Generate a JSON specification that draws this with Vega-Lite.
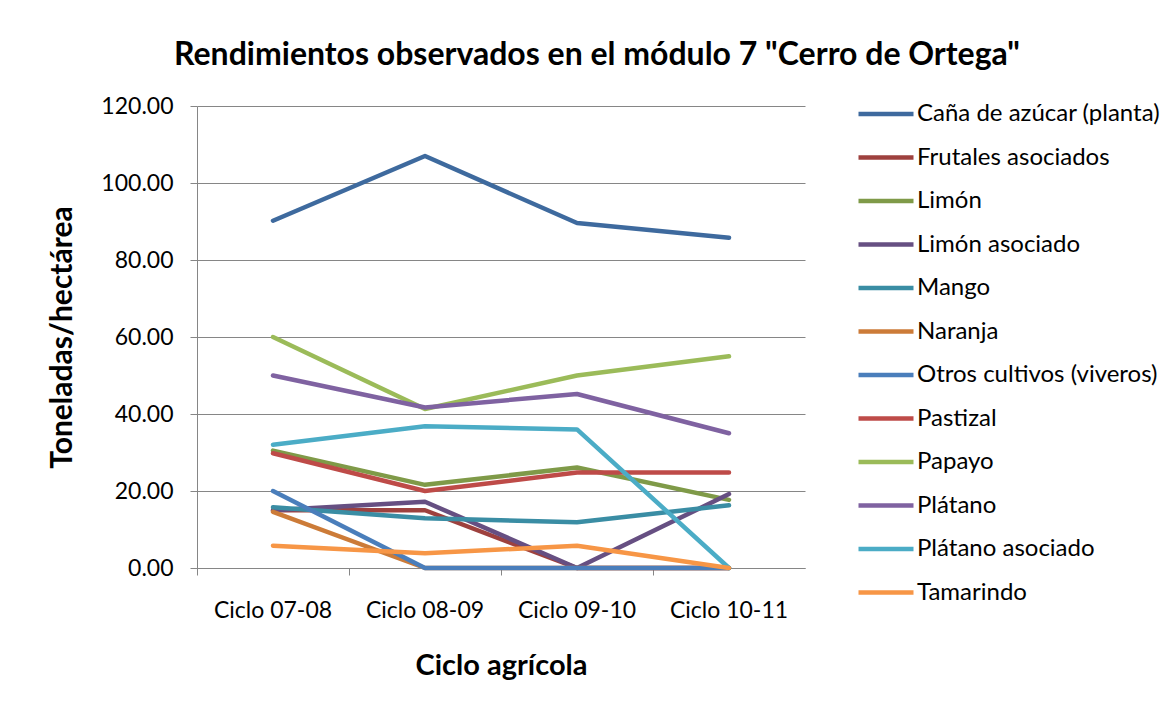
{
  "$schema": "https://vega.github.io/schema/vega-lite/v6.json",
  "autosize": {"type": "none"},
  "width": 608,
  "height": 462,
  "padding": {"left": 197, "top": 106, "right": 367, "bottom": 143},
  "background": "white",
  "title": {
    "text": "Rendimientos observados en el módulo 7 \"Cerro de Ortega\"",
    "font": "Lato",
    "fontSize": 32,
    "fontWeight": "bold",
    "color": "#000000",
    "anchor": "middle",
    "dx": 96,
    "dy": 12,
    "offset": 24
  },
  "data": {
    "values": [
      {"cultivo": "Caña de azúcar (planta)", "ciclo": "Ciclo 07-08", "t": 90.2},
      {"cultivo": "Caña de azúcar (planta)", "ciclo": "Ciclo 08-09", "t": 107},
      {"cultivo": "Caña de azúcar (planta)", "ciclo": "Ciclo 09-10", "t": 89.6},
      {"cultivo": "Caña de azúcar (planta)", "ciclo": "Ciclo 10-11", "t": 85.8},
      {"cultivo": "Frutales asociados", "ciclo": "Ciclo 07-08", "t": 15},
      {"cultivo": "Frutales asociados", "ciclo": "Ciclo 08-09", "t": 15},
      {"cultivo": "Frutales asociados", "ciclo": "Ciclo 09-10", "t": 0},
      {"cultivo": "Frutales asociados", "ciclo": "Ciclo 10-11", "t": 0},
      {"cultivo": "Limón", "ciclo": "Ciclo 07-08", "t": 30.5},
      {"cultivo": "Limón", "ciclo": "Ciclo 08-09", "t": 21.6},
      {"cultivo": "Limón", "ciclo": "Ciclo 09-10", "t": 26.1},
      {"cultivo": "Limón", "ciclo": "Ciclo 10-11", "t": 17.7},
      {"cultivo": "Limón asociado", "ciclo": "Ciclo 07-08", "t": 15},
      {"cultivo": "Limón asociado", "ciclo": "Ciclo 08-09", "t": 17.2},
      {"cultivo": "Limón asociado", "ciclo": "Ciclo 09-10", "t": 0},
      {"cultivo": "Limón asociado", "ciclo": "Ciclo 10-11", "t": 19.2},
      {"cultivo": "Mango", "ciclo": "Ciclo 07-08", "t": 15.8},
      {"cultivo": "Mango", "ciclo": "Ciclo 08-09", "t": 12.9},
      {"cultivo": "Mango", "ciclo": "Ciclo 09-10", "t": 11.9},
      {"cultivo": "Mango", "ciclo": "Ciclo 10-11", "t": 16.3},
      {"cultivo": "Naranja", "ciclo": "Ciclo 07-08", "t": 14.6},
      {"cultivo": "Naranja", "ciclo": "Ciclo 08-09", "t": 0},
      {"cultivo": "Naranja", "ciclo": "Ciclo 09-10", "t": 0},
      {"cultivo": "Naranja", "ciclo": "Ciclo 10-11", "t": 0},
      {"cultivo": "Otros cultivos (viveros)", "ciclo": "Ciclo 07-08", "t": 20},
      {"cultivo": "Otros cultivos (viveros)", "ciclo": "Ciclo 08-09", "t": 0},
      {"cultivo": "Otros cultivos (viveros)", "ciclo": "Ciclo 09-10", "t": 0},
      {"cultivo": "Otros cultivos (viveros)", "ciclo": "Ciclo 10-11", "t": 0},
      {"cultivo": "Pastizal", "ciclo": "Ciclo 07-08", "t": 29.8},
      {"cultivo": "Pastizal", "ciclo": "Ciclo 08-09", "t": 20},
      {"cultivo": "Pastizal", "ciclo": "Ciclo 09-10", "t": 24.8},
      {"cultivo": "Pastizal", "ciclo": "Ciclo 10-11", "t": 24.8},
      {"cultivo": "Papayo", "ciclo": "Ciclo 07-08", "t": 60},
      {"cultivo": "Papayo", "ciclo": "Ciclo 08-09", "t": 41.3},
      {"cultivo": "Papayo", "ciclo": "Ciclo 09-10", "t": 50},
      {"cultivo": "Papayo", "ciclo": "Ciclo 10-11", "t": 55},
      {"cultivo": "Plátano", "ciclo": "Ciclo 07-08", "t": 50},
      {"cultivo": "Plátano", "ciclo": "Ciclo 08-09", "t": 41.7},
      {"cultivo": "Plátano", "ciclo": "Ciclo 09-10", "t": 45.2},
      {"cultivo": "Plátano", "ciclo": "Ciclo 10-11", "t": 35},
      {"cultivo": "Plátano asociado", "ciclo": "Ciclo 07-08", "t": 32},
      {"cultivo": "Plátano asociado", "ciclo": "Ciclo 08-09", "t": 36.8},
      {"cultivo": "Plátano asociado", "ciclo": "Ciclo 09-10", "t": 36},
      {"cultivo": "Plátano asociado", "ciclo": "Ciclo 10-11", "t": 0},
      {"cultivo": "Tamarindo", "ciclo": "Ciclo 07-08", "t": 5.8},
      {"cultivo": "Tamarindo", "ciclo": "Ciclo 08-09", "t": 3.8},
      {"cultivo": "Tamarindo", "ciclo": "Ciclo 09-10", "t": 5.8},
      {"cultivo": "Tamarindo", "ciclo": "Ciclo 10-11", "t": 0}
    ]
  },
  "mark": {"type": "line", "strokeWidth": 4.5, "strokeCap": "round", "strokeJoin": "round"},
  "encoding": {
    "x": {
      "field": "ciclo",
      "type": "nominal",
      "scale": {"type": "band", "paddingInner": 0, "paddingOuter": 0},
      "axis": {
        "title": "Ciclo agrícola",
        "labelAngle": 0,
        "labelFont": "Lato",
        "labelFontSize": 23,
        "labelColor": "#000000",
        "labelPadding": 24,
        "titleFont": "Lato",
        "titleFontSize": 29,
        "titleFontWeight": "bold",
        "titleColor": "#000000",
        "titleY": 97,
        "titleBaseline": "middle",
        "bandPosition": 0,
        "tickSize": 7,
        "tickColor": "#868686",
        "domainColor": "#868686",
        "grid": false
      }
    },
    "y": {
      "field": "t",
      "type": "quantitative",
      "scale": {"domain": [0, 120], "nice": false},
      "axis": {
        "title": "Toneladas/hectárea",
        "values": [0, 20, 40, 60, 80, 100, 120],
        "format": ".2f",
        "labelFont": "Lato",
        "labelFontSize": 23,
        "labelColor": "#000000",
        "labelPadding": 17,
        "tickSize": 7,
        "tickColor": "#868686",
        "domainColor": "#868686",
        "gridColor": "#868686",
        "gridOpacity": 1,
        "titleFont": "Lato",
        "titleFontSize": 30,
        "titleFontWeight": "bold",
        "titleColor": "#000000",
        "titleX": -135,
        "titleY": 231,
        "titleBaseline": "middle",
        "titleAngle": -90
      }
    },
    "color": {
      "field": "cultivo",
      "type": "nominal",
      "sort": ["Caña de azúcar (planta)", "Frutales asociados", "Limón", "Limón asociado", "Mango", "Naranja", "Otros cultivos (viveros)", "Pastizal", "Papayo", "Plátano", "Plátano asociado", "Tamarindo"],
      "scale": {
        "domain": ["Caña de azúcar (planta)", "Frutales asociados", "Limón", "Limón asociado", "Mango", "Naranja", "Otros cultivos (viveros)", "Pastizal", "Papayo", "Plátano", "Plátano asociado", "Tamarindo"],
        "range": ["#3E6A9E", "#9E413E", "#7F9A48", "#664F82", "#3A8DA4", "#CC7B38", "#4A7EBB", "#BE4B48", "#9BBB59", "#7F62A1", "#4BACC6", "#F79646"]
      },
      "legend": {
        "title": null,
        "orient": "none",
        "legendX": 659,
        "legendY": -22,
        "symbolType": "stroke",
        "symbolSize": 3025,
        "symbolStrokeWidth": 4.5,
        "labelFont": "Lato",
        "labelFontSize": 24,
        "labelColor": "#000000",
        "labelOffset": 1,
        "rowPadding": 1.5,
        "labelLimit": 400
      }
    }
  },
  "config": {"view": {"stroke": null}}
}
